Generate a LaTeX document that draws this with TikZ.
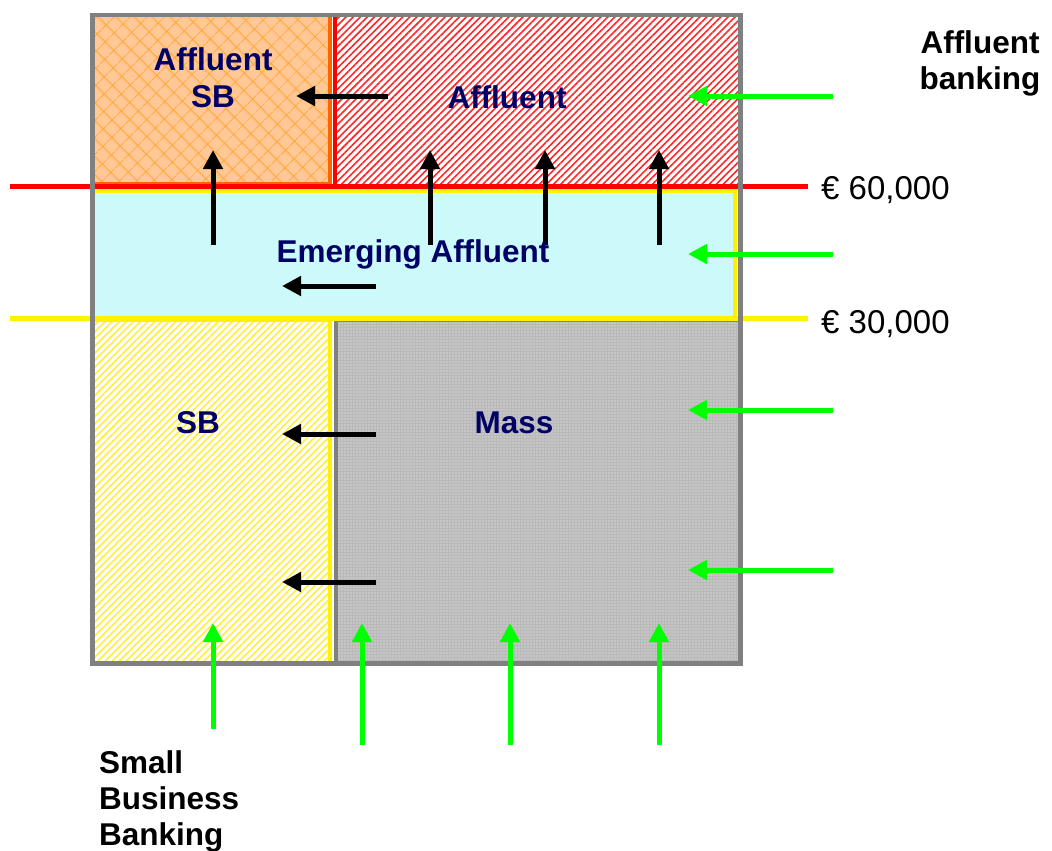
\documentclass[tikz,border=0pt]{standalone}
\usepackage{fontspec}
\setmainfont{Liberation Sans}
\usetikzlibrary{arrows.meta,patterns.meta}
\definecolor{segtext}{RGB}{0,0,102}
\definecolor{afsbfill}{RGB}{255,200,150}
\definecolor{afsbline}{RGB}{255,102,0}
\definecolor{afsbhatch}{RGB}{255,165,50}
\definecolor{hatchred}{RGB}{255,40,40}
\definecolor{emergfill}{RGB}{204,250,250}
\definecolor{hatchyellow}{RGB}{255,238,60}
\definecolor{massfill}{RGB}{185,185,185}
\definecolor{framegray}{RGB}{128,128,128}
\definecolor{arrowgreen}{RGB}{0,255,0}
\tikzset{
  region/.style={rectangle, draw, line width=4pt, inner sep=0pt, outer sep=0pt, anchor=north west},
  seglabel/.style={font=\fontsize{31.5}{37}\selectfont\bfseries, text=segtext, align=center},
  sidelabel/.style={font=\fontsize{31.5}{36}\selectfont\bfseries, align=center},
  limitlabel/.style={font=\fontsize{33}{36}\selectfont, anchor=west, inner sep=0pt},
  limitline/.style={line width=4.5pt},
  moveto/.style={-{Triangle[width=19pt,length=19pt]}, line width=5pt},
  acquire/.style={moveto, arrowgreen}
}

\begin{document}
\begin{tikzpicture}[x=1pt, y=1pt]
  \useasboundingbox (0,0) rectangle (1052,-851);

  % segment blocks
  \node[region, draw=afsbline, preaction={fill=afsbfill},
    pattern={Hatch[angle=45, distance=13pt, line width=1pt]}, pattern color=afsbhatch,
    minimum width=237.5pt, minimum height=169pt] (afsb) at (92.5,-15) {};
  \node[region, draw=red, preaction={fill=white},
    pattern={Lines[angle=45, distance=5pt, line width=1.6pt]}, pattern color=hatchred,
    minimum width=405.5pt, minimum height=171pt] (aff) at (335,-15) {};
  \node[region, draw=yellow, fill=emergfill,
    minimum width=642.5pt, minimum height=128.5pt] (emerg) at (92.5,-190.5) {};
  \node[region, draw=yellow, preaction={fill=white},
    pattern={Lines[angle=45, distance=5pt, line width=1.6pt]}, pattern color=hatchyellow,
    minimum width=237.5pt, minimum height=343.5pt] (sb) at (92.5,-320) {};
  \node[region, draw=framegray, preaction={fill=massfill},
    pattern={Dots[distance=3pt, radius=0.6pt]}, pattern color=white!85!massfill,
    minimum width=405pt, minimum height=343.5pt] (mass) at (335.5,-320) {};

  % wealth limits
  \coordinate (hiL) at (10,-186.5);
  \coordinate (hiR) at (808,-186.5);
  \coordinate (loL) at (10,-318.5);
  \coordinate (loR) at (808,-318.5);
  \draw[limitline, red] (hiL) -- (hiR);
  \draw[limitline, yellow] (loL) -- (loR);
  \node[limitlabel] (hi) at (821,-190) {€ 60,000};
  \node[limitlabel] (lo) at (821,-324) {€ 30,000};

  % outer frame
  \node[region, draw=framegray, line width=4.5pt,
    minimum width=648pt, minimum height=648.5pt] (frame) at (92.5,-15) {};

  % moves between segments
  \foreach \y/\xa/\xb [count=\i] in {96/388/296, 286/376/282, 434/376/282, 582/376/282} {
    \coordinate (ls\i) at (\xa,-\y);
    \coordinate (le\i) at (\xb,-\y);
    \draw[moveto] (ls\i) -- (le\i);
  }
  \foreach \x [count=\i] in {213,430,545,659} {
    \coordinate (us\i) at (\x,-245);
    \coordinate (ue\i) at (\x,-150);
    \draw[moveto] (us\i) -- (ue\i);
  }

  % acquisition from outside
  \foreach \y [count=\i] in {96,254,410,570} {
    \coordinate (gs\i) at (833,-\y);
    \coordinate (ge\i) at (688,-\y);
    \draw[acquire] (gs\i) -- (ge\i);
  }
  \foreach \x/\ys [count=\i] in {213/729, 362/745, 510/745, 659/745} {
    \coordinate (bs\i) at (\x,-\ys);
    \coordinate (be\i) at (\x,-623);
    \draw[acquire] (bs\i) -- (be\i);
  }

  % segment names
  \node[seglabel] (afsbtxt) at (213,-78) {Affluent\\SB};
  \node[seglabel] (afftxt) at (507,-97) {Affluent};
  \node[seglabel] (emergtxt) at (413,-254) {Emerging Affluent};
  \node[seglabel] (sbtxt) at (198,-423) {SB};
  \node[seglabel] (masstxt) at (514,-423) {Mass};

  % channels
  \node[sidelabel] (affbank) at (980,-63) {Affluent\\banking};
  \node[sidelabel, align=left, anchor=north west, inner sep=0pt] (sbb) at (99,-750)
    {Small\\Business\\Banking};
\end{tikzpicture}
\end{document}
